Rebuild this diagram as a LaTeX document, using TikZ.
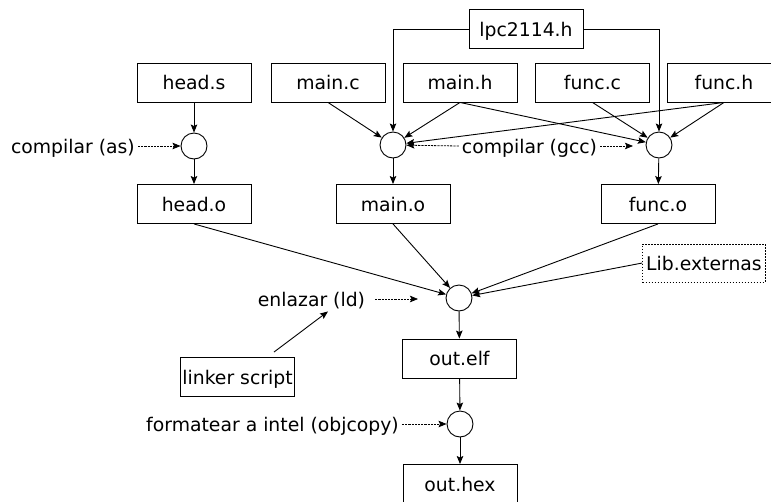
\documentclass[tikz,border=0pt]{standalone}
\usepackage{fontspec}
\setmainfont{DejaVu Sans}
\usetikzlibrary{arrows.meta}
\begin{document}
\begin{tikzpicture}[x=1pt,y=-1pt,
  every node/.style={font=\fontsize{18.8}{22}\selectfont, text height=14.5pt, text depth=0pt},
  file/.style={draw, line width=0.9pt, minimum width=114pt, minimum height=39pt, inner sep=1pt},
  proc/.style={draw, circle, line width=0.9pt, minimum size=26pt, inner sep=0pt},
  lbl/.style={inner sep=3pt},
  conn/.style={line width=0.9pt, -{Stealth[length=8pt,width=6.5pt,inset=1.5pt]}},
  dconn/.style={conn, line width=0.8pt, dash pattern=on 2.2pt off 1pt},
  libbox/.style={draw, line width=0.9pt, dash pattern=on 1.5pt off 1.5pt, minimum height=38pt, inner sep=3.5pt}
]
\useasboundingbox (0,0) rectangle (771,501);
\clip (0,0) rectangle (771,501);

% files
\node[file] (heads) at (194,82.5) {head.s};
\node[file] (mainc) at (328,82.5) {main.c};
\node[file] (mainh) at (460,82.5) {main.h};
\node[file] (lpc) at (526,29) {lpc2114.h};
\node[file] (funcc) at (592.5,82.5) {func.c};
\node[file] (funch) at (724,82.5) {func.h};
\node[file] (heado) at (194,204) {head.o};
\node[file] (maino) at (393,204) {main.o};
\node[file] (funco) at (658,204) {func.o};
\node[libbox] (lib) at (704,263) {Lib.externas};
\node[file] (linker) at (237.5,377) {linker script};
\node[file] (outelf) at (459.5,358.5) {out.elf};
\node[file] (outhex) at (460,484) {out.hex};

% processes
\node[proc] (ca) at (194,146) {};
\node[proc] (c1) at (393,145) {};
\node[proc] (c2) at (659,145) {};
\node[proc] (ld) at (459,298) {};
\node[proc] (cobj) at (460,424) {};

% labels
\node[lbl, anchor=east] (las) at (138,146) {compilar (as)};
\node[lbl] (lgcc) at (529.5,146) {compilar (gcc)};
\node[lbl] (lenl) at (311.5,299) {enlazar (ld)};
\node[lbl] (lobj) at (272.5,424) {formatear a intel (objcopy)};
\coordinate (gccend) at (633,146);
\coordinate (enlend) at (418,299);

% compile as
\draw[conn] (heads) -- (ca);
\draw[conn] (ca) -- (heado);
\draw[dconn] (las.east) -- (ca);

% compile gcc
\draw[conn] (mainc.south) -- (c1);
\draw[conn] (mainh.south) -- (c1);
\draw[conn] (mainh.south) -- (c2);
\draw[conn] (funcc.south) -- (c2);
\draw[conn] (funch.south) -- (c1);
\draw[conn] (funch.south) -- (c2);
\draw[conn] (lpc.west) -| (c1.north);
\draw[conn] (lpc.east) -| (c2.north);
\draw[conn] (c1) -- (maino);
\draw[conn] (c2) -- (funco);
\draw[dconn] (lgcc.west) -- (c1);
\draw[dconn] (lgcc.east) -- (gccend);

% link
\draw[conn] (heado.south) -- (ld);
\draw[conn] (maino.south) -- (ld);
\draw[conn] (funco.south) -- (ld);
\draw[conn] (lib.west) -- (ld);
\draw[dconn, shorten <=7pt] (lenl.east) -- (enlend);
\draw[conn] ([xshift=36.5pt,yshift=5pt]linker.north) -- ([xshift=16.5pt,yshift=-2pt]lenl.south);
\draw[conn] (ld) -- (outelf);

% objcopy
\draw[conn] (outelf) -- (cobj);
\draw[conn] (cobj) -- (outhex);
\draw[dconn] (lobj.east) -- (cobj);
\end{tikzpicture}
\end{document}
